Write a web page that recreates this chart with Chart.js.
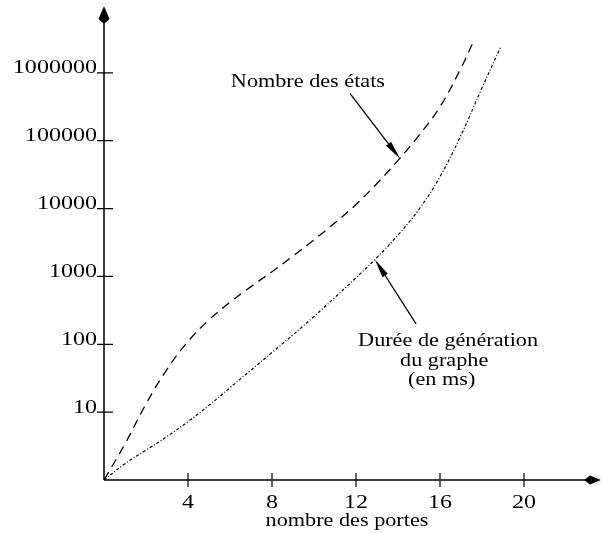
<!DOCTYPE html>
<html>
<head>
<meta charset="utf-8">
<script src="https://cdn.jsdelivr.net/npm/chart.js@4.4.1/dist/chart.umd.min.js"></script>
<style>
    html, body { margin: 0; padding: 0; background: #fff; }
    canvas { display: block; }
</style>
</head>
<body>
<canvas id="chart" width="602" height="533"></canvas>
<script>
// nombre des portes (x) / nombre des états (dashed curve)
const etatsX = [0, 1, 2, 3, 4, 5, 6, 7, 8, 9, 10, 11, 12, 13, 14, 15, 16, 17, 17.56];
const etatsY = [1, 3.4, 13.2, 42.7, 110, 229, 417, 708, 1175, 1995, 3467, 6166, 11480, 23440, 51290, 120200, 316000, 1175000, 2754000];

// durée de génération du graphe en ms (dotted curve)
const dureeX = [0, 1, 2, 3, 4, 5, 6, 7, 8, 9, 10, 11, 12, 13, 14, 15, 16, 17, 18, 18.89];
const dureeY = [1, 1.74, 2.75, 4.37, 7.24, 12.6, 22.9, 41.7, 75.9, 138, 257, 490, 955, 1905, 4074, 9772, 29510, 120200, 602600, 2399000];

const xTicks = [4, 8, 12, 16, 20];
const yTicks = [10, 100, 1000, 10000, 100000, 1000000];
const yTickLabels = ['10', '100', '1000', '10000', '100000', '1000000'];

const xTitle = 'nombre des portes';
const etatsLabel = ['Nombre des états'];
const dureeLabel = ['Durée de génération', 'du graphe', '(en ms)'];

// annotation anchors in data units: [x, y]
const etatsText = [9.71, 616000];
const etatsArrow = [[11.71, 500000], [14.1, 54000]];
const dureeText = [[12.1, 93], [14.1, 48], [14.48, 25]];
const dureeArrow = [[14.86, 200], [12.9, 1780]];

const FONT = "'Liberation Serif', 'DejaVu Serif', serif";

function stretchText(c, txt, x, y, sx, align) {
    c.save();
    c.translate(x, y);
    c.scale(sx, 1);
    c.textAlign = align;
    c.textBaseline = 'alphabetic';
    c.fillText(txt, 0, 0);
    c.restore();
}

function arrow(c, x0, y0, x1, y1, len, half) {
    const a = Math.atan2(y1 - y0, x1 - x0);
    c.beginPath();
    c.moveTo(x0, y0);
    c.lineTo(x1 - Math.cos(a) * len * 0.8, y1 - Math.sin(a) * len * 0.8);
    c.stroke();
    c.beginPath();
    c.moveTo(x1, y1);
    c.lineTo(x1 - Math.cos(a) * len - Math.sin(a) * half, y1 - Math.sin(a) * len + Math.cos(a) * half);
    c.lineTo(x1 - Math.cos(a) * len + Math.sin(a) * half, y1 - Math.sin(a) * len - Math.cos(a) * half);
    c.closePath();
    c.fill();
}

const axesPlugin = {
    id: 'axes',
    beforeDatasetsDraw(chart) {
        const c = chart.ctx;
        const { x, y } = chart.scales;
        const area = chart.chartArea;
        const ox = x.getPixelForValue(0);
        const oy = y.getPixelForValue(1);
        c.save();
        c.strokeStyle = '#000';
        c.fillStyle = '#000';
        c.lineWidth = 1.5;
        // axis lines
        c.beginPath();
        c.moveTo(ox, oy);
        c.lineTo(ox, area.top + 10);
        c.moveTo(ox, oy);
        c.lineTo(chart.width - 10, oy);
        c.stroke();
        // arrow heads
        const ty = area.top + 1;
        c.beginPath();
        c.moveTo(ox, ty);
        c.lineTo(ox + 5.5, ty + 13);
        c.lineTo(ox, ty + 18);
        c.lineTo(ox - 5.5, ty + 13);
        c.closePath();
        c.fill();
        const tx = chart.width - 1;
        c.beginPath();
        c.moveTo(tx, oy);
        c.lineTo(tx - 11, oy - 4.5);
        c.lineTo(tx - 17, oy);
        c.lineTo(tx - 11, oy + 4.5);
        c.closePath();
        c.fill();
        // tick marks crossing the axes
        c.lineWidth = 1.2;
        c.beginPath();
        yTicks.forEach(v => {
            const py = y.getPixelForValue(v);
            c.moveTo(ox - 7, py);
            c.lineTo(ox + 9, py);
        });
        xTicks.forEach(v => {
            const px = x.getPixelForValue(v);
            c.moveTo(px, oy - 7);
            c.lineTo(px, oy + 7);
        });
        c.stroke();
        c.restore();
    },
    afterDraw(chart) {
        const c = chart.ctx;
        const { x, y } = chart.scales;
        const ox = x.getPixelForValue(0);
        const oy = y.getPixelForValue(1);
        const px = p => [x.getPixelForValue(p[0]), y.getPixelForValue(p[1])];
        c.save();
        c.fillStyle = '#000';
        c.strokeStyle = '#000';
        c.font = '18.5px ' + FONT;
        // tick labels
        yTicks.forEach((v, i) => {
            stretchText(c, yTickLabels[i], ox - 7, y.getPixelForValue(v) + 0.5, 1.3, 'right');
        });
        xTicks.forEach(v => {
            stretchText(c, String(v), x.getPixelForValue(v), oy + 28, 1.3, 'center');
        });
        stretchText(c, xTitle, (ox + x.getPixelForValue(xTicks[xTicks.length - 1])) / 2 + 33, oy + 46, 1.2, 'center');

        // annotations
        const e = px(etatsText);
        stretchText(c, etatsLabel[0], e[0], e[1], 1.2, 'center');
        c.lineWidth = 1.3;
        let a0 = px(etatsArrow[0]), a1 = px(etatsArrow[1]);
        arrow(c, a0[0], a0[1], a1[0], a1[1], 19, 3.2);

        dureeLabel.forEach((t, i) => {
            const p = px(dureeText[i]);
            stretchText(c, t, p[0], p[1], 1.2, 'left');
        });
        a0 = px(dureeArrow[0]); a1 = px(dureeArrow[1]);
        arrow(c, a0[0], a0[1], a1[0], a1[1], 19, 3.2);
        c.restore();
    }
};

new Chart(document.getElementById('chart'), {
    type: 'line',
    data: {
        datasets: [
            {
                label: etatsLabel[0],
                data: etatsX.map((v, i) => ({ x: v, y: etatsY[i] })),
                borderColor: '#000',
                borderWidth: 1.3,
                borderDash: [9, 6],
                pointRadius: 0,
                tension: 0.4,
                fill: false
            },
            {
                label: dureeLabel.join(' '),
                data: dureeX.map((v, i) => ({ x: v, y: dureeY[i] })),
                borderColor: '#000',
                borderWidth: 1.2,
                borderDash: [3, 2, 1, 2],
                pointRadius: 0,
                tension: 0.4,
                fill: false
            }
        ]
    },
    options: {
        responsive: false,
        animation: false,
        layout: { padding: { left: 104, top: 5, right: 4.5, bottom: 53 } },
        plugins: { legend: { display: false }, tooltip: { enabled: false } },
        scales: {
            x: { type: 'linear', min: 0, max: 23.5, display: false },
            y: { type: 'logarithmic', min: 1, max: 10000000, display: false }
        }
    },
    plugins: [axesPlugin]
});
</script>
</body>
</html>
